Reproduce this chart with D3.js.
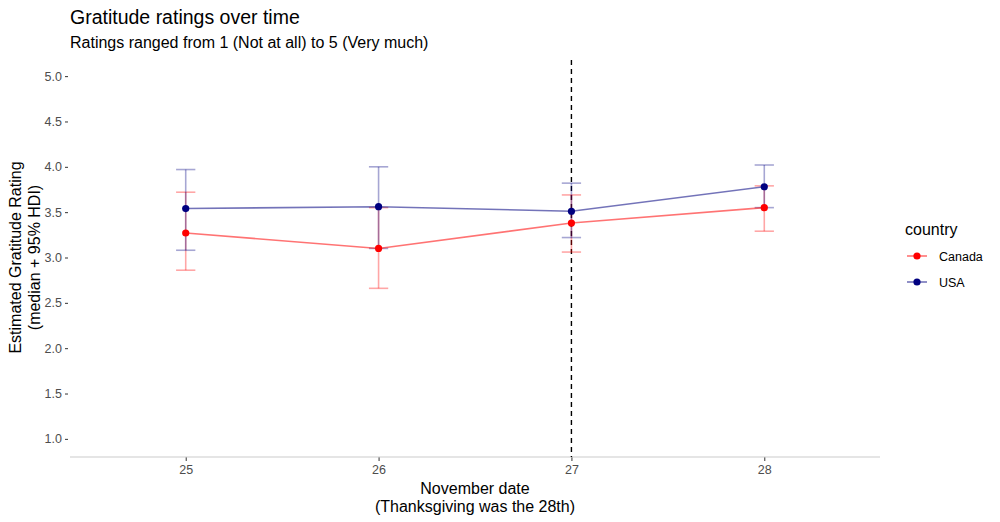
<!DOCTYPE html>
<html>
<head>
<meta charset="utf-8">
<script src="https://cdn.jsdelivr.net/npm/d3@7"></script>
<style>
  body { margin: 0; background: #fff; }
  text { font-family: "Liberation Sans", Arial, sans-serif; }
</style>
</head>
<body>
<div></div>
<script>
var width = 1000;
var height = 522;

// data
var dates = [25, 26, 27, 28];
var countries = ['Canada', 'USA'];
var canadaMedian = [3.27, 3.10, 3.38, 3.55];
var canadaLower = [2.86, 2.66, 3.06, 3.29];
var canadaUpper = [3.72, 3.55, 3.69, 3.79];
var usaMedian = [3.54, 3.56, 3.51, 3.78];
var usaLower = [3.08, 3.10, 3.22, 3.55];
var usaUpper = [3.97, 4.00, 3.82, 4.02];
var yTicks = [1.0, 1.5, 2.0, 2.5, 3.0, 3.5, 4.0, 4.5, 5.0];
var thanksgivingLine = 27;

var colors = { Canada: '#ff0000', USA: '#000080' };

var svg = d3.select('div')
    .append('svg').attr('width', width).attr('height', height);

var margin = { left: 70, right: 880, top: 58, bottom: 457 };

var x = d3.scaleLinear().domain([24.4, 28.6]).range([margin.left, margin.right]);
var y = d3.scaleLinear().domain([0.8, 5.2]).range([margin.bottom, margin.top]);

var series = [
    { name: 'Canada', median: canadaMedian, lower: canadaLower, upper: canadaUpper },
    { name: 'USA', median: usaMedian, lower: usaLower, upper: usaUpper }
];

// titles
svg.append('text').attr('x', 70).attr('y', 24)
    .style('font-size', '19.5px').attr('fill', '#000')
    .text('Gratitude ratings over time');
svg.append('text').attr('x', 70).attr('y', 48)
    .style('font-size', '16px').attr('fill', '#000')
    .text('Ratings ranged from 1 (Not at all) to 5 (Very much)');

// y axis
var yAxis = d3.axisLeft(y).tickValues(yTicks).tickFormat(d3.format('.1f')).tickSize(3).tickPadding(3);
var gy = svg.append('g').attr('transform', 'translate(' + (margin.left - 2) + ',0)').call(yAxis);
gy.select('.domain').remove();
gy.selectAll('.tick line').attr('stroke', '#333');
gy.selectAll('.tick text').attr('fill', '#4d4d4d').style('font-size', '12.5px');

// x axis
var xAxis = d3.axisBottom(x).tickValues(dates).tickFormat(d3.format('d')).tickSize(4).tickPadding(4);
var gx = svg.append('g').attr('transform', 'translate(0,' + margin.bottom + ')').call(xAxis);
gx.select('.domain').remove();
gx.selectAll('.tick line').attr('stroke', '#333');
gx.selectAll('.tick text').attr('fill', '#4d4d4d').style('font-size', '12.5px');
svg.append('line')
    .attr('x1', margin.left).attr('x2', margin.right)
    .attr('y1', margin.bottom).attr('y2', margin.bottom)
    .attr('stroke', '#cccccc').attr('stroke-width', 1.2);

// axis titles
var xt = svg.append('text').attr('text-anchor', 'middle').style('font-size', '16px');
xt.append('tspan').attr('x', (margin.left + margin.right) / 2).attr('y', 494).text('November date');
xt.append('tspan').attr('x', (margin.left + margin.right) / 2).attr('y', 512).text('(Thanksgiving was the 28th)');

var yt = svg.append('text').attr('text-anchor', 'middle').style('font-size', '16px')
    .attr('transform', 'translate(0,' + ((margin.top + margin.bottom) / 2) + ') rotate(-90)');
yt.append('tspan').attr('x', 0).attr('y', 21).text('Estimated Gratitude Rating');
yt.append('tspan').attr('x', 0).attr('y', 40).text('(median + 95% HDI)');

// dashed reference line
svg.append('line')
    .attr('x1', x(thanksgivingLine)).attr('x2', x(thanksgivingLine))
    .attr('y1', y(5.2) + 2).attr('y2', margin.bottom)
    .attr('stroke', '#000').attr('stroke-width', 1.4)
    .attr('stroke-dasharray', '5,4');

var g = svg.append('g');
var capHalf = (x(25.05) - x(25));

// error bars
series.forEach(function (s) {
    var eb = g.append('g')
        .attr('stroke', colors[s.name])
        .attr('stroke-opacity', 0.35)
        .attr('stroke-width', 1.6)
        .attr('fill', 'none');
    dates.forEach(function (d, i) {
        eb.append('line')
            .attr('x1', x(d)).attr('x2', x(d))
            .attr('y1', y(s.lower[i])).attr('y2', y(s.upper[i]));
        eb.append('line')
            .attr('x1', x(d) - capHalf).attr('x2', x(d) + capHalf)
            .attr('y1', y(s.lower[i])).attr('y2', y(s.lower[i]));
        eb.append('line')
            .attr('x1', x(d) - capHalf).attr('x2', x(d) + capHalf)
            .attr('y1', y(s.upper[i])).attr('y2', y(s.upper[i]));
    });
});

// lines
var line = d3.line()
    .x(function (d, i) { return x(dates[i]); })
    .y(function (d) { return y(d); });

series.forEach(function (s) {
    g.append('path')
        .attr('d', line(s.median))
        .attr('fill', 'none')
        .attr('stroke', colors[s.name])
        .attr('stroke-opacity', 0.55)
        .attr('stroke-width', 1.6);
});

// points
series.forEach(function (s) {
    g.append('g').selectAll('circle')
        .data(s.median)
        .enter()
        .append('circle')
        .attr('cx', function (d, i) { return x(dates[i]); })
        .attr('cy', function (d) { return y(d); })
        .attr('r', 3.6)
        .attr('fill', colors[s.name]);
});

// legend
var legend = svg.append('g').attr('transform', 'translate(905,0)');
legend.append('text').attr('x', 0).attr('y', 235).style('font-size', '16px').text('country');
countries.forEach(function (c, i) {
    var ly = 256 + i * 26;
    legend.append('line')
        .attr('x1', 2).attr('x2', 22).attr('y1', ly).attr('y2', ly)
        .attr('stroke', colors[c]).attr('stroke-opacity', 0.55).attr('stroke-width', 1.6);
    legend.append('circle').attr('cx', 12).attr('cy', ly).attr('r', 3.6).attr('fill', colors[c]);
    legend.append('text').attr('x', 34).attr('y', ly + 4.5).style('font-size', '12.5px').text(c);
});
</script>
</body>
</html>
